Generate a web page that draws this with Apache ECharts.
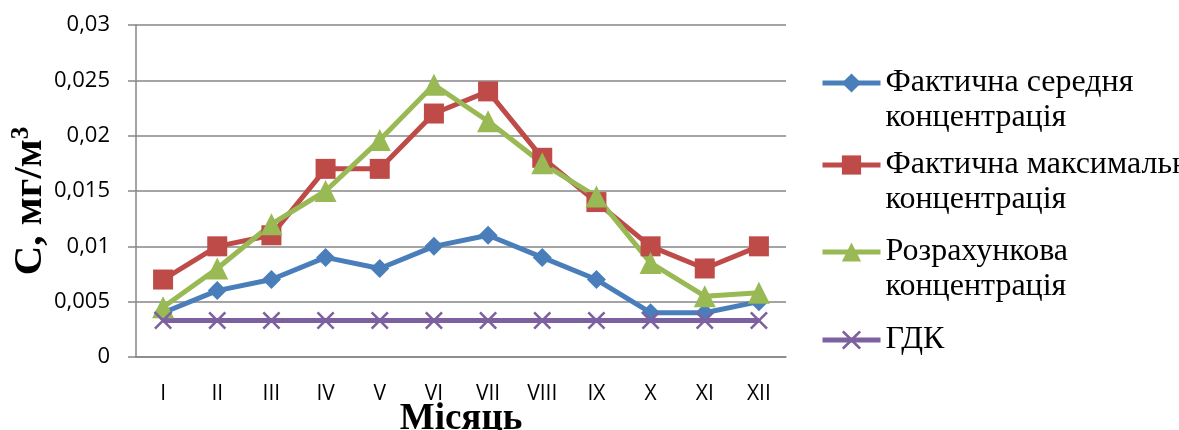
<!DOCTYPE html>
<html>
<head>
<meta charset="utf-8">
<script src="https://cdn.jsdelivr.net/npm/echarts@6/dist/echarts.min.js"></script>
<style>
  html, body { margin: 0; padding: 0; background: #fff; }
  #chart { width: 1179px; height: 430px; }
</style>
</head>
<body>
<div id="chart"></div>
<script>
// Months (Roman numerals)
const months = ['I', 'II', 'III', 'IV', 'V', 'VI', 'VII', 'VIII', 'IX', 'X', 'XI', 'XII'];

// Concentrations, mg/m3
const avgActual = [0.004, 0.006, 0.007, 0.009, 0.008, 0.010, 0.011, 0.009, 0.007, 0.004, 0.004, 0.005];
const maxActual = [0.007, 0.010, 0.011, 0.017, 0.017, 0.022, 0.024, 0.018, 0.014, 0.010, 0.008, 0.010];
const calculated = [0.0045, 0.008, 0.012, 0.015, 0.0196, 0.0246, 0.0213, 0.0175, 0.0145, 0.0085, 0.0055, 0.0058];
const mpc = [0.0033, 0.0033, 0.0033, 0.0033, 0.0033, 0.0033, 0.0033, 0.0033, 0.0033, 0.0033, 0.0033, 0.0033];

const seriesNames = [
  'Фактична середня\nконцентрація',
  'Фактична максимальна\nконцентрація',
  'Розрахункова\nконцентрація',
  'ГДК'
];

// X-shaped marker
const crossSymbol = 'path://M0,1 L1,0 L5,4 L9,0 L10,1 L6,5 L10,9 L9,10 L5,6 L1,10 L0,9 L4,5 Z';

const colors = ['#4a7ebb', '#be4b48', '#98b954', '#7d60a0'];

const chart = echarts.init(document.getElementById('chart'));

function lineSeries(name, data, color, symbol, size) {
  return {
    name: name,
    type: 'line',
    data: data,
    symbol: symbol,
    symbolSize: size,
    showSymbol: true,
    lineStyle: { color: color, width: 5 },
    itemStyle: { color: color },
    emphasis: { disabled: true },
    animation: false,
    z: 3
  };
}

// One legend block per series; a leading blank line keeps the icon
// level with the first line of a two-line caption.
const legendFirstLineY = [83, 165, 252, 340];
const LEGEND_LINE_H = 35;
const legends = seriesNames.map(function (name, i) {
  const twoLines = name.indexOf('\n') >= 0;
  return {
    orient: 'vertical',
    left: 820,
    top: twoLines ? legendFirstLineY[i] - LEGEND_LINE_H * 1.5 : legendFirstLineY[i] - LEGEND_LINE_H / 2,
    padding: 0,
    itemWidth: 58,
    itemHeight: 24,
    lineStyle: { width: 5 },
    formatter: function (n) { return n.indexOf('\n') >= 0 ? '\n' + n : n; },
    textStyle: {
      fontFamily: 'Liberation Serif',
      fontSize: 32,
      color: '#000',
      lineHeight: LEGEND_LINE_H
    },
    data: [name]
  };
});

chart.setOption({
  animation: false,
  grid: { left: 136, right: 393, top: 25, bottom: 73, containLabel: false, outerBoundsMode: 'none' },
  legend: legends,
  xAxis: {
    type: 'category',
    data: months,
    boundaryGap: true,
    name: 'Місяць',
    nameLocation: 'middle',
    nameGap: 44,
    nameMoveOverlap: false,
    nameTextStyle: {
      fontFamily: 'Liberation Serif',
      fontWeight: 'bold',
      fontSize: 37,
      color: '#000'
    },
    axisLine: { lineStyle: { color: '#868686', width: 1.5 } },
    axisTick: { show: false },
    axisLabel: {
      fontFamily: 'Open Sans',
      fontSize: 21,
      color: '#000',
      margin: 27
    }
  },
  yAxis: {
    type: 'value',
    min: 0,
    max: 0.03,
    interval: 0.005,
    name: 'С, мг/м{sup|3}',
    nameLocation: 'middle',
    nameRotate: 90,
    nameGap: 84,
    nameMoveOverlap: false,
    nameTextStyle: {
      fontFamily: 'Liberation Serif',
      fontWeight: 'bold',
      fontSize: 41,
      color: '#000',
      padding: [0, 20, 0, 0],
      rich: {
        sup: {
          fontFamily: 'Liberation Serif',
          fontWeight: 'bold',
          fontSize: 25,
          color: '#000',
          verticalAlign: 'top',
          padding: [0, 0, 18, 0]
        }
      }
    },
    axisLine: { show: true, lineStyle: { color: '#868686', width: 1.5 } },
    axisTick: { show: true, length: 8, lineStyle: { color: '#868686', width: 1.5 } },
    splitLine: { lineStyle: { color: '#868686', width: 1.5 } },
    axisLabel: {
      fontFamily: 'Open Sans',
      fontSize: 22,
      color: '#000',
      margin: 26,
      formatter: function (v) { return String(+v.toFixed(3)).replace('.', ','); }
    }
  },
  series: [
    lineSeries(seriesNames[0], avgActual, colors[0], 'diamond', 19),
    lineSeries(seriesNames[1], maxActual, colors[1], 'rect', 20),
    lineSeries(seriesNames[2], calculated, colors[2], 'triangle', 22),
    lineSeries(seriesNames[3], mpc, colors[3], crossSymbol, 18)
  ]
});
</script>
</body>
</html>
